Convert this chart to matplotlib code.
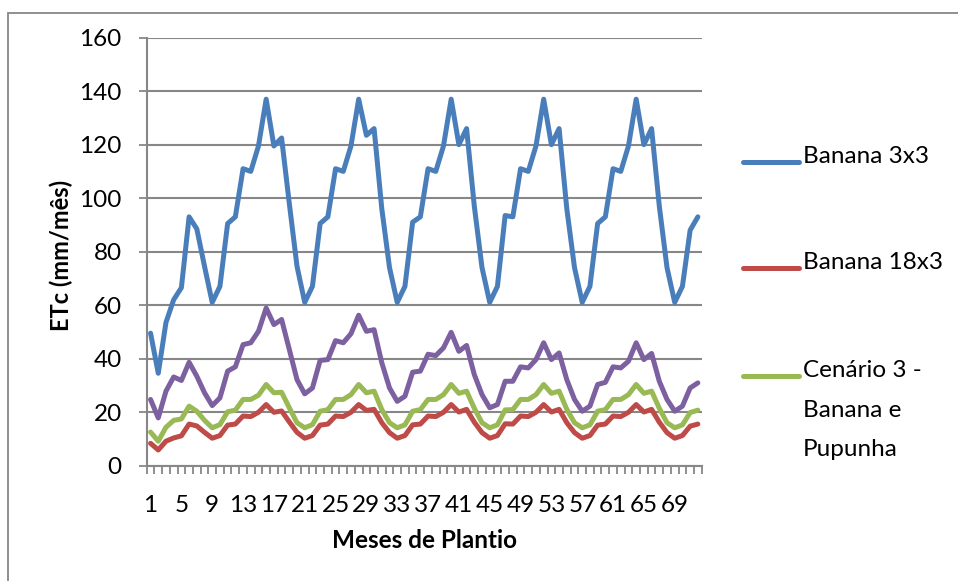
import numpy as np
import matplotlib
matplotlib.use("Agg")
import matplotlib.pyplot as plt
from matplotlib.lines import Line2D
from matplotlib.patches import Rectangle

plt.rcParams['font.family'] = ['Lato', 'DejaVu Sans']

# ETc mensal (mm/mês) ao longo de 72 meses de plantio
meses = np.arange(1, 73)

banana_3x3 = [49.5, 34.5, 53.5, 62, 66.5, 93, 88.5, 74.5, 61, 67, 90.5, 93,
              111, 110, 119.5, 137, 119.5, 122.5, 98, 74.5, 61, 67, 90.5, 93,
              111, 110, 119.5, 137, 123.5, 126, 96, 74, 61, 67, 91, 93,
              111, 110, 119.5, 137, 120, 126, 97, 74, 61, 67, 93.5, 93,
              111, 110, 119.5, 137, 120, 126, 96, 74, 61, 67, 90.5, 93,
              111, 110, 119.5, 137, 120, 126, 97, 74, 61, 67, 88, 93]

banana_18x3 = [8.3, 5.8, 9.1, 10.3, 11.1, 15.5, 14.8, 12.4, 10.2, 11.2, 15.1, 15.5,
               18.5, 18.3, 19.9, 22.8, 19.9, 20.4, 16.3, 12.4, 10.2, 11.2, 15.1, 15.5,
               18.5, 18.3, 19.9, 22.8, 20.6, 21.0, 16.0, 12.3, 10.2, 11.2, 15.2, 15.5,
               18.5, 18.3, 19.9, 22.8, 20.0, 21.0, 16.2, 12.3, 10.2, 11.2, 15.6, 15.5,
               18.5, 18.3, 19.9, 22.8, 20.0, 21.0, 16.0, 12.3, 10.2, 11.2, 15.1, 15.5,
               18.5, 18.3, 19.9, 22.8, 20.0, 21.0, 16.2, 12.3, 10.2, 11.2, 14.7, 15.5]

cenario_3 = [12.5, 9.1, 14.3, 16.9, 17.4, 22.2, 20.3, 16.9, 14.1, 15.3, 20.1, 20.7,
             24.7, 24.7, 26.3, 30.3, 27.2, 27.4, 21.6, 16.0, 14.1, 15.3, 20.3, 20.9,
             24.7, 24.7, 26.5, 30.3, 27.2, 27.8, 20.9, 16.0, 14.1, 15.2, 20.3, 20.9,
             24.7, 24.7, 26.5, 30.3, 27.0, 27.8, 21.4, 16.0, 14.1, 15.2, 20.8, 20.9,
             24.7, 24.7, 26.5, 30.3, 27.0, 27.8, 21.0, 16.0, 14.1, 15.2, 20.3, 20.9,
             24.7, 24.7, 26.5, 30.3, 27.0, 27.8, 21.4, 16.0, 14.1, 15.2, 19.8, 20.7]

serie_4 = [24.7, 17.8, 27.8, 33.1, 31.8, 38.6, 33.4, 27.2, 22.4, 25.3, 35.3, 36.9,
           45.2, 45.9, 50.2, 58.9, 52.7, 54.6, 43.4, 32.1, 26.8, 29.0, 39.3, 39.6,
           46.7, 45.9, 49.3, 56.2, 50.2, 50.8, 38.4, 29.0, 24.0, 25.9, 34.9, 35.3,
           41.6, 41.1, 44.0, 49.8, 42.7, 44.9, 34.0, 26.5, 21.6, 22.8, 31.5, 31.5,
           36.9, 36.5, 39.6, 45.9, 39.6, 42.1, 32.1, 24.7, 20.3, 22.2, 30.3, 31.1,
           36.9, 36.5, 39.0, 45.9, 39.6, 41.9, 31.5, 24.7, 20.3, 22.2, 29.0, 30.9]

legenda = ["Banana 3x3", "Banana 18x3", "Cenário 3 -\nBanana e\nPupunha"]
cores = ["#4A7EBB", "#BE4B48", "#98B954", "#7D60A0"]
cinza = "#878787"

W, H = 958, 581
fig = plt.figure(figsize=(W / 100, H / 100), dpi=100)


def px(x, y):
    return x / W, 1 - y / H


# moldura do grafico
fig.add_artist(Rectangle(px(8, 600), 1000 / W, (600 - 13) / H,
                         transform=fig.transFigure, fill=False,
                         edgecolor=cinza, lw=1.3))

ax = fig.add_axes([146.7 / W, 1 - 465.5 / H, 555 / W, 427.8 / H])

for serie, cor in zip([banana_3x3, banana_18x3, cenario_3, serie_4], cores):
    ax.plot(meses, serie, color=cor, lw=3.6, solid_joinstyle='round',
            solid_capstyle='round', clip_on=False, zorder=3)

ax.set_xlim(0.5, 72.5)
ax.set_ylim(0, 160)
ax.set_yticks(np.arange(0, 161, 20))
ax.set_xticks(np.arange(1, 73, 4))
ax.set_xticklabels([str(m) for m in range(1, 73, 4)])
ax.set_xticks(np.arange(0.5, 73, 1), minor=True)

ax.grid(axis='y', color=cinza, lw=1.5, zorder=1)
for s in ['top', 'right']:
    ax.spines[s].set_visible(False)
for s in ['left', 'bottom']:
    ax.spines[s].set_color(cinza)
    ax.spines[s].set_linewidth(1.5)

tam = 17.5
ax.tick_params(axis='y', length=6, width=1.3, color=cinza, pad=12,
               labelsize=tam, labelcolor='black')
ax.tick_params(axis='x', which='major', length=0, pad=21,
               labelsize=tam, labelcolor='black')
ax.tick_params(axis='x', which='minor', length=6, width=1.3, color=cinza)

fig.text(*px(61, 255), "ETc (mm/mês)", rotation=90, ha='center', va='center',
         fontsize=17, fontweight='bold')
fig.text(*px(425, 541), "Meses de Plantio", ha='center', va='center',
         fontsize=17.5, fontweight='bold')

# legenda
for (y, txt, cor) in zip([162, 268, 376], legenda, cores):
    fig.add_artist(Line2D([743 / W, 799 / W], [1 - y / H] * 2, color=cor,
                          lw=3.6, solid_capstyle='round'))
    fig.text(803 / W, 1 - (y - 16) / H, txt, ha='left', va='top',
             fontsize=tam, linespacing=2.1)

fig.savefig("out.png", dpi=100)
